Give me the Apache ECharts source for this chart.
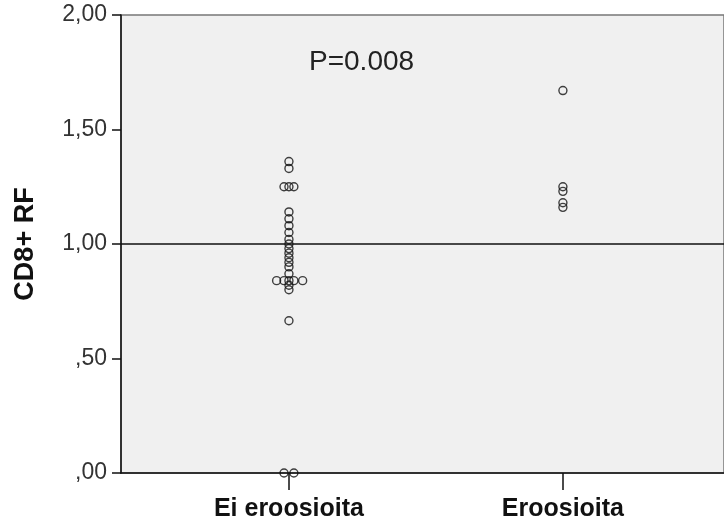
<!DOCTYPE html>
<html>
<head>
<meta charset="utf-8">
<script src="https://cdn.jsdelivr.net/npm/echarts@6/dist/echarts.min.js"></script>
<style>html,body{margin:0;padding:0;background:#fff;}#c{width:724px;height:525px;}</style>
</head>
<body>
<div id="c"></div>
<script>
var categories = ['Ei eroosioita', 'Eroosioita'];
var yTicks = [0, 0.5, 1, 1.5, 2];
var pText = 'P=0.008';
var yTitle = 'CD8+ RF';
var refValue = 1.0;

// group 1: values and side-by-side spread (in category units) as drawn
var eiValues = [1.36, 1.33, 1.25, 1.25, 1.25, 1.14, 1.11, 1.08, 1.05, 1.02, 1.00, 0.98, 0.96, 0.94, 0.92, 0.90, 0.87,
                0.84, 0.84, 0.84, 0.84, 0.84, 0.82, 0.80, 0.665, 0.0, 0.0];
var eiSpread = [0, 0, -0.018, 0, 0.018, 0, 0, 0, 0, 0, 0, 0, 0, 0, 0, 0, 0,
                -0.045, -0.018, 0, 0.018, 0.05, 0, 0, 0, -0.018, 0.018];
// group 2
var eroValues = [1.67, 1.25, 1.23, 1.18, 1.16];
var eroSpread = [0, 0, 0, 0, 0];

function pts(catIdx, vals, spread) {
  return vals.map(function (v, i) { return [catIdx + 1 + spread[i], v]; });
}

var chart = echarts.init(document.getElementById('c'), null, {renderer: 'canvas'});
var markerStyle = {color: 'rgba(0,0,0,0)', borderColor: '#111', borderWidth: 1.4};
chart.setOption({
  animation: false,
  backgroundColor: '#ffffff',
  title: {
    text: pText, left: 304, top: 43,
    textStyle: {fontFamily: 'Liberation Sans, Arial, sans-serif', fontSize: 28, fontWeight: 'normal', color: '#222'}
  },
  grid: {left: 121, right: 0, top: 15, bottom: 52, show: true, backgroundColor: '#f0f0f0', borderColor: '#777', borderWidth: 1.5},
  xAxis: {
    type: 'value', min: 0.387, max: 2.588,
    axisLine: {show: true, onZero: false, lineStyle: {color: '#111', width: 1.5}},
    axisTick: {show: true, customValues: [1, 2], length: 17, lineStyle: {color: '#111', width: 1.5}},
    axisLabel: {
      customValues: [1, 2], margin: 24,
      formatter: function (v) { return categories[Math.round(v) - 1] || ''; },
      fontFamily: 'Liberation Sans, Arial, sans-serif', fontSize: 25, fontWeight: 'bold', color: '#111'
    },
    splitLine: {show: false}
  },
  yAxis: {
    type: 'value', min: 0, max: 2, interval: 0.5,
    name: yTitle, nameLocation: 'middle', nameGap: 82, nameRotate: 90,
    nameTextStyle: {fontFamily: 'Liberation Sans, Arial, sans-serif', fontSize: 27, fontWeight: 'bold', color: '#111'},
    axisLine: {show: true, lineStyle: {color: '#111', width: 1.5}},
    axisTick: {show: true, length: 9, lineStyle: {color: '#111', width: 1.5}},
    axisLabel: {
      margin: 14,
      formatter: function (v) { return v.toFixed(2).replace('.', ',').replace(/^0/, ''); },
      fontFamily: 'Liberation Sans, Arial, sans-serif', fontSize: 23, color: '#333'
    },
    splitLine: {show: false}
  },
  series: [
    {
      type: 'scatter', name: categories[0], data: pts(0, eiValues, eiSpread),
      symbol: 'circle', symbolSize: 8, itemStyle: markerStyle, z: 3,
      markLine: {
        silent: true, symbol: ['none', 'none'], label: {show: false},
        lineStyle: {color: '#111', width: 1.5, type: 'solid'},
        data: [{yAxis: refValue}]
      }
    },
    {
      type: 'scatter', name: categories[1], data: pts(1, eroValues, eroSpread),
      symbol: 'circle', symbolSize: 8, itemStyle: markerStyle, z: 3
    }
  ]
});
</script>
</body>
</html>
